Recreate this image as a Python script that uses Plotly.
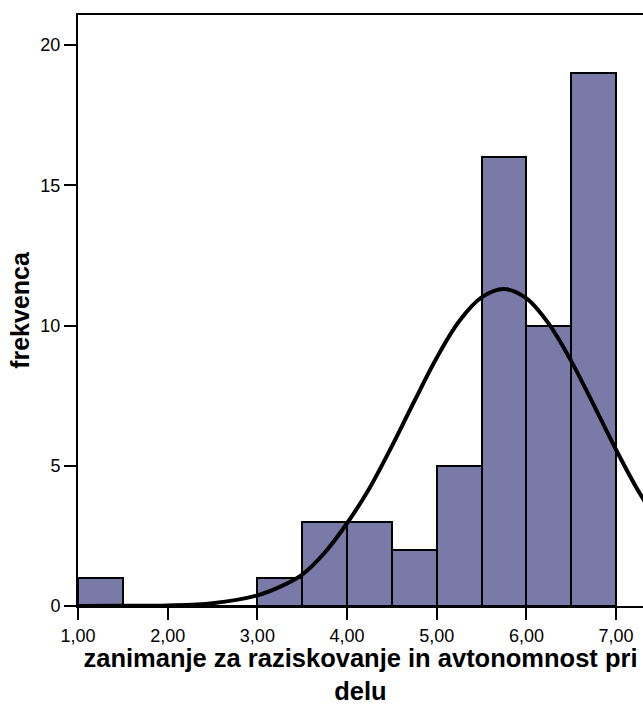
import plotly.graph_objects as go

# Histogram bins (left edges), width 0.5
bin_lefts = [1.0, 1.5, 2.0, 2.5, 3.0, 3.5, 4.0, 4.5, 5.0, 5.5, 6.0, 6.5]
counts = [1, 0, 0, 0, 1, 3, 3, 2, 5, 16, 10, 19]
bin_width = 0.5

# Normal curve
curve_x = [1.0, 1.5, 2.0, 2.5, 3.0, 3.25, 3.5, 3.75, 4.0, 4.25, 4.5, 4.75,
           5.0, 5.25, 5.5, 5.75, 6.0, 6.25, 6.5, 6.75, 7.0, 7.25, 7.5]
curve_y = [0.0, 0.005, 0.02, 0.1, 0.38, 0.68, 1.12, 1.9, 2.95, 4.2, 5.7, 7.3,
           8.85, 10.15, 11.0, 11.3, 10.97, 10.06, 8.73, 7.17, 5.57, 4.09, 2.84]

x_tickvals = [1, 2, 3, 4, 5, 6, 7]
x_ticktext = ["1,00", "2,00", "3,00", "4,00", "5,00", "6,00", "7,00"]
y_tickvals = [0, 5, 10, 15, 20]

x_title = "zanimanje za raziskovanje in avtonomnost pri<br>delu"
y_title = "frekvenca"

centers = [b + bin_width / 2 for b in bin_lefts]

fig = go.Figure()
fig.add_trace(go.Bar(
    x=centers, y=counts, width=[bin_width] * len(centers),
    marker=dict(color="#7a7aa9", line=dict(color="black", width=2)),
    showlegend=False, hoverinfo="skip",
))
fig.add_trace(go.Scatter(
    x=curve_x, y=curve_y, mode="lines",
    line=dict(color="black", width=4, shape="spline"),
    showlegend=False, hoverinfo="skip",
))

font = "Liberation Sans, Arial, sans-serif"
fig.update_layout(
    width=643, height=705,
    margin=dict(l=78, r=0, t=15, b=99),
    paper_bgcolor="white", plot_bgcolor="white",
    bargap=0,
    font=dict(family=font, color="black", size=18),
    xaxis=dict(
        range=[1.0, 7.3], tickvals=x_tickvals, ticktext=x_ticktext,
        ticks="outside", ticklen=12, tickwidth=2, tickcolor="black",
        showline=True, linecolor="black", linewidth=2, mirror=True,
        showgrid=False, zeroline=False,
        tickfont=dict(size=18, family=font),
        title=dict(text="<b>" + x_title + "</b>", font=dict(size=25.5, family=font), standoff=9),
        automargin=False,
    ),
    yaxis=dict(
        range=[0, 21.07], tickvals=y_tickvals,
        ticks="outside", ticklen=12, tickwidth=2, tickcolor="black",
        showline=True, linecolor="black", linewidth=2, mirror=False,
        showgrid=False, zeroline=False,
        tickfont=dict(size=18, family=font),
        title=dict(text="<b>" + y_title + "</b>", font=dict(size=25, family=font), standoff=4),
        automargin=False,
    ),
)

fig.write_html("out.html")
